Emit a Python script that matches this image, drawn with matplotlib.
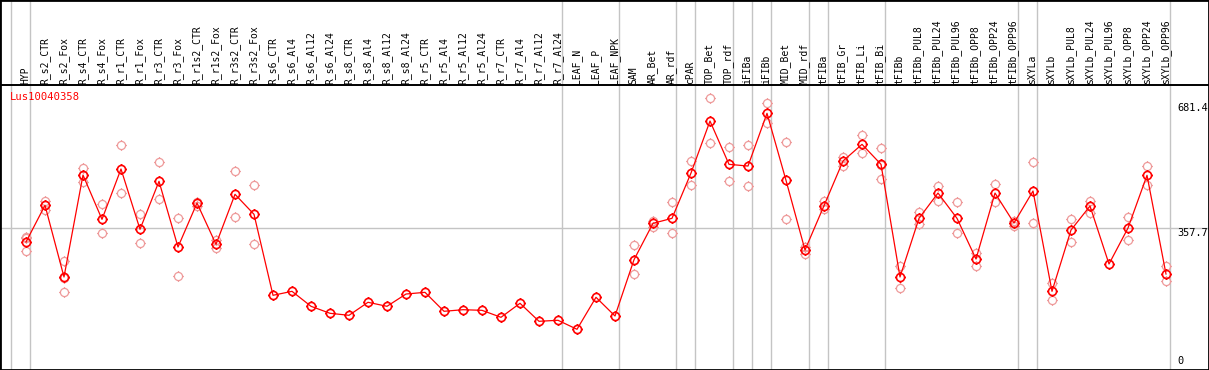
import matplotlib
matplotlib.use("Agg")
import matplotlib.pyplot as plt
from matplotlib.path import Path

# ---------------- data ----------------
gene_name = "Lus10040358"
categories = [
    "HYP", "R_s2_CTR", "R_s2_Fox", "R_s4_CTR", "R_s4_Fox", "R_r1_CTR", "R_r1_Fox",
    "R_r3_CTR", "R_r3_Fox", "R_r1s2_CTR", "R_r1s2_Fox", "R_r3s2_CTR", "R_r3s2_Fox",
    "R_s6_CTR", "R_s6_Al4", "R_s6_Al12", "R_s6_Al24", "R_s8_CTR", "R_s8_Al4",
    "R_s8_Al12", "R_s8_Al24", "R_r5_CTR", "R_r5_Al4", "R_r5_Al12", "R_r5_Al24",
    "R_r7_CTR", "R_r7_Al4", "R_r7_Al12", "R_r7_Al24", "LEAF_N", "LEAF_P", "LEAF_NPK",
    "SAM", "AR_Bet", "AR_rdf", "cPAR", "TOP_Bet", "TOP_rdf", "iFIBa", "iFIBb",
    "MID_Bet", "MID_rdf", "tFIBa", "tFIB_Gr", "tFIB_Li", "tFIB_Bi", "tFIBb",
    "tFIBb_PUL8", "tFIBb_PUL24", "tFIBb_PUL96", "tFIBb_OPP8", "tFIBb_OPP24",
    "tFIBb_OPP96", "sXYLa", "sXYLb", "sXYLb_PUL8", "sXYLb_PUL24", "sXYLb_PUL96",
    "sXYLb_OPP8", "sXYLb_OPP24", "sXYLb_OPP96",
]
means = [
    322.1, 417.1, 231.5, 495.5, 380.8, 511.1, 355.0, 479.2, 309.1, 423.0, 316.1,
    445.6, 393.8, 184.1, 194.4, 155.6, 137.5, 132.3, 166.0, 155.6, 187.4, 191.8,
    142.7, 146.8, 145.2, 127.1, 163.4, 116.8, 119.4, 96.1, 178.9, 130.5, 276.2,
    370.5, 383.4, 500.7, 635.3, 523.2, 518.8, 655.3, 481.8, 301.4, 416.1, 531.8,
    575.0, 523.2, 231.5, 383.4, 448.9, 383.4, 278.1, 448.9, 371.3, 454.1, 194.4,
    353.1, 415.3, 265.1, 358.3, 494.8, 239.2,
]
replicates = [
    [333.2, 298.0, 335.0], [429.0, 404.9, 417.0], [272.1, 191.8, 230.0],
    [513.7, 476.6, 496.0], [419.7, 344.6], [572.4, 448.2], [393.8, 318.7],
    [528.4, 432.6], [383.4, 233.3], [426.4, 415.3], [327.3, 306.6],
    [505.1, 386.0], [468.9, 316.1],
    [], [], [], [], [], [], [], [], [], [], [], [], [], [], [], [], [], [], [],
    [313.5, 240.0, 275.1], [377.2, 361.7], [424.9, 344.6], [531.0, 468.9],
    [694.1, 578.4], [567.2, 479.2], [573.2, 467.1], [681.2, 629.4],
    [580.2, 381.6], [309.9, 291.0], [428.2, 407.5], [541.4, 519.6],
    [598.3, 551.7], [564.7, 484.4, 521.0], [259.2, 202.2], [399.7, 367.9],
    [467.1, 429.0], [424.9, 344.6], [294.4, 260.7], [472.2, 424.9],
    [377.2, 364.3], [528.4, 370.5], [215.1, 171.1], [380.8, 321.3],
    [429.0, 397.9], [], [387.6, 326.5], [518.1, 469.6], [259.2, 220.3],
]
group_breaks = [-1, 0, 28, 31, 34, 35, 37, 38, 39, 41, 42, 45, 52, 53, 60]
reference_value = 357.7
scale_labels = [0, 357.7, 681.4]

# ---------------- layout (pixel geometry) ----------------
W, H = 1209, 370
X0_PX, DX_PX = 26.0, 19.0          # pixel of first category, spacing
Y0_PX, PX_PER_UNIT = 366.4, 0.3862  # pixel of value 0, pixels per unit


def px_x(p):
    return (p - X0_PX) / DX_PX


def px_y(p):
    return (Y0_PX - p) / PX_PER_UNIT


fig = plt.figure(figsize=(W / 100, H / 100), dpi=100)
ax = fig.add_axes([0, 0, 1, 1])
ax.set_xlim(px_x(0), px_x(W))
ax.set_ylim(px_y(H), px_y(0))
ax.set_xticks([])
ax.set_yticks([])
for s in ax.spines.values():
    s.set_color("black")
    s.set_linewidth(2.0)

# header separator
ax.axhline(px_y(85), color="black", lw=1.4, zorder=3)

# grid lines
grey = "#c4c4c4"
for b in group_breaks:
    ax.axvline(b + 0.23, color=grey, lw=1.0, zorder=1)
ax.axhline(reference_value, xmin=0, xmax=1, color=grey, lw=1.0, zorder=1)

# marker: circle with small outside ticks
TICK = 1.3
circ = Path.unit_circle()
tv, tc = [], []
for dx, dy in [(0, 1), (0, -1), (1, 0), (-1, 0)]:
    tv += [(dx * 1.0, dy * 1.0), (dx * TICK, dy * TICK)]
    tc += [Path.MOVETO, Path.LINETO]
marker = Path.make_compound_path(circ, Path(tv, tc))
MS = 7.6

xs = list(range(len(categories)))

# replicates
rx, ry = [], []
for i, reps in enumerate(replicates):
    for v in reps:
        rx.append(i)
        ry.append(v)
ax.plot(rx, ry, linestyle="none", marker=marker, markersize=MS,
        markerfacecolor="none", markeredgecolor="#ee9a9a", markeredgewidth=0.9,
        zorder=2)

# mean line
ax.plot(xs, means, color="#ff0000", lw=0.9, zorder=4)
ax.plot(xs, means, linestyle="none", marker=marker, markersize=MS,
        markerfacecolor="none", markeredgecolor="#ff0000", markeredgewidth=1.2,
        zorder=5)

# category labels
for i, c in enumerate(categories):
    ax.text(i - 0.03, px_y(83.5), c, rotation=90, ha="center", va="bottom",
            fontsize=7, family="DejaVu Sans Mono", color="black")

# gene name
ax.text(px_x(9.5), px_y(91.5), gene_name, color="#ff0000", ha="left", va="top",
        fontsize=7.6, family="DejaVu Sans Mono")

# scale labels at right
for v in scale_labels:
    va = "bottom" if v == 0 else "top"
    yy = v + (0.8 / PX_PER_UNIT if v == 0 else 0)
    ax.text(px_x(1177.5), yy, f"{v:g}", ha="left", va=va,
            fontsize=7.4, family="DejaVu Sans Mono", color="black")

fig.savefig("out.png", dpi=100)
